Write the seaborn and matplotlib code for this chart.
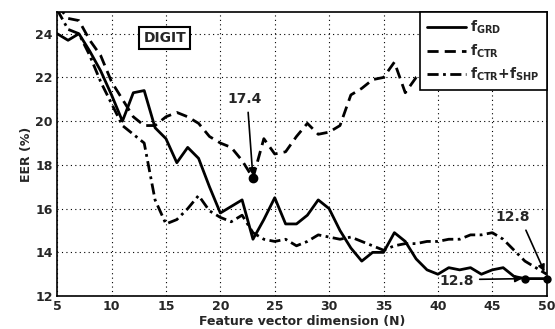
import numpy as np
import pandas as pd
import matplotlib.pyplot as plt
import seaborn as sns

# feature vector dimension N
dims = list(range(5, 51))

# EER (%) per descriptor
eer_grd = [24.0, 23.7, 24.0, 23.2, 22.3, 21.2, 20.0, 21.3, 21.4, 19.7,
           19.2, 18.1, 18.8, 18.3, 17.0, 15.8, 16.1, 16.4, 14.6, 15.5,
           16.5, 15.3, 15.3, 15.7, 16.4, 16.0, 15.0, 14.2, 13.6, 14.0,
           14.0, 14.9, 14.5, 13.7, 13.2, 13.0, 13.3, 13.2, 13.3, 13.0,
           13.2, 13.3, 12.9, 12.8, 12.8, 12.8]
eer_ctr = [25.3, 24.7, 24.6, 23.7, 23.0, 21.8, 21.0, 20.2, 19.8, 19.8,
           20.2, 20.4, 20.2, 19.9, 19.3, 19.0, 18.8, 18.2, 17.4, 19.2,
           18.5, 18.6, 19.3, 19.9, 19.4, 19.5, 19.8, 21.2, 21.5, 21.9,
           22.0, 22.7, 21.3, 22.0, 22.3, 22.4, 22.5, 22.4, 22.3, 22.4,
           22.5, 22.4, 22.3, 22.4, 22.4, 22.4]
eer_ctr_shp = [25.1, 24.2, 24.0, 23.0, 21.8, 20.8, 19.8, 19.4, 19.0, 16.4,
               15.3, 15.5, 16.0, 16.6, 15.9, 15.6, 15.4, 15.7, 14.9, 14.6,
               14.5, 14.6, 14.3, 14.5, 14.8, 14.7, 14.6, 14.7, 14.5, 14.3,
               14.1, 14.3, 14.4, 14.4, 14.5, 14.5, 14.6, 14.6, 14.8, 14.8,
               14.9, 14.6, 14.1, 13.6, 13.3, 13.0]

labels = [r'$\mathbf{f_{GRD}}$', r'$\mathbf{f_{CTR}}$',
          r'$\mathbf{f_{CTR}}$+$\mathbf{f_{SHP}}$']

df = pd.DataFrame({'N': dims * 3,
                   'EER': eer_grd + eer_ctr + eer_ctr_shp,
                   'method': [labels[0]] * len(dims) + [labels[1]] * len(dims) + [labels[2]] * len(dims)})

sns.set_style('white')
plt.rcParams['font.family'] = ['DejaVu Sans']
plt.rcParams['font.weight'] = 'bold'

fig = plt.figure(figsize=(5.55, 3.29), dpi=100)
ax = fig.add_axes([0.103, 0.10, 0.882, 0.864])

# solid / dashed / dash-dot like the matlab original
dash_styles = {labels[0]: '-', labels[1]: (0, (4, 2.2)), labels[2]: (0, (4, 1.6, 1, 1.6))}
for lab in labels:
    sub = df[df['method'] == lab]
    sns.lineplot(data=sub, x='N', y='EER', ax=ax, color='black', lw=2.0, label=lab)
    ax.lines[-1].set_linestyle(dash_styles[lab])

# highlighted points
ax.plot([23], [17.4], 'o', color='black', ms=6)
ax.plot([48, 50], [12.8, 12.8], 'o', color='black', ms=5, clip_on=False)

ax.set_xlim(5, 50)
ax.set_ylim(12, 25)
ax.set_xticks(range(5, 51, 5))
ax.set_yticks(range(12, 25, 2))
ax.grid(True, color='black', linestyle=(0, (1, 3)), lw=0.8)
ax.tick_params(direction='in', labelsize=9, length=4, pad=3)
for s in ax.spines.values():
    s.set_color('black')
    s.set_linewidth(1.2)
ax.set_xlabel('Feature vector dimension (N)', fontsize=9, fontweight='bold', labelpad=1)
ax.set_ylabel('EER (%)', fontsize=9, fontweight='bold', labelpad=2)

ax.text(14.9, 23.8, 'DIGIT', fontsize=10, fontweight='bold', ha='center', va='center',
        bbox=dict(boxstyle='square,pad=0.3', fc='white', ec='black', lw=1.5))

arrow = dict(arrowstyle='-|>', color='black', lw=1.2, mutation_scale=10)
ax.annotate('17.4', xy=(23, 17.4), xytext=(22.2, 21.0), fontsize=10, fontweight='bold',
            ha='center', va='center', arrowprops=dict(arrow, relpos=(0.6, 0)))
ax.annotate('12.8', xy=(48, 12.8), xytext=(41.7, 12.7), fontsize=10, fontweight='bold',
            ha='center', va='center', arrowprops=dict(arrow, relpos=(1, 0.6)))
ax.annotate('12.8', xy=(49.9, 13.0), xytext=(46.9, 15.6), fontsize=10, fontweight='bold',
            ha='center', va='center', arrowprops=dict(arrow, relpos=(0.8, 0)))

leg = ax.legend(loc='upper right', fontsize=10, frameon=True, fancybox=False,
                handlelength=2.8, borderaxespad=0.0, labelspacing=0.45, handletextpad=0.3,
                borderpad=0.5)
leg.get_frame().set_edgecolor('black')
leg.get_frame().set_linewidth(1.2)
leg.get_frame().set_alpha(1)

fig.savefig('out.png', dpi=100)
